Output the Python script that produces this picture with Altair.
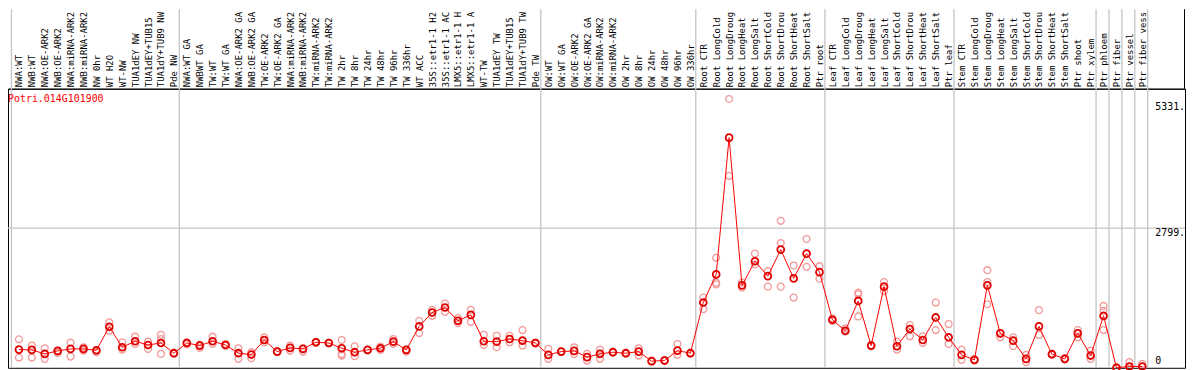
import altair as alt
import pandas as pd

gene_id = "Potri.014G101900"

categories = [
    "NWA:WT", "NWB:WT", "NWA:OE-ARK2", "NWB:OE-ARK2", "NWA:miRNA-ARK2", "NWB:miRNA-ARK2",
    "NW 0hr", "WT H2O", "WT-NW", "TUA1dEY NW", "TUA1dEY+TUB15", "TUA1dY+TUB9 NW", "Pde NW",
    "NWA:WT GA", "NWBWT GA", "TW:WT", "TW:WT GA", "NWA:OE-ARK2 GA", "NWB:OE-ARK2 GA",
    "TW:OE-ARK2", "TW:OE-ARK2 GA", "NWA:miRNA-ARK2", "NWB:miRNA-ARK2", "TW:miRNA-ARK2",
    "TW:miRNA-ARK2", "TW 2hr", "TW 8hr", "TW 24hr", "TW 48hr", "TW 96hr", "TW 336hr",
    "WT ACC", "35S::etr1-1 H2", "35S::etr1-1 AC", "LMX5::etr1-1 H", "LMX5::etr1-1 A",
    "WT-TW", "TUA1dEY TW", "TUA1dEY+TUB15", "TUA1dY+TUB9 TW", "Pde TW",
    "OW:WT", "OW:WT GA", "OW:OE-ARK2", "OW:OE-ARK2 GA", "OW:miRNA-ARK2", "OW:miRNA-ARK2",
    "OW 2hr", "OW 8hr", "OW 24hr", "OW 48hr", "OW 96hr", "OW 336hr",
    "Root CTR", "Root LongCold", "Root LongDroug", "Root LongHeat", "Root LongSalt",
    "Root ShortCold", "Root ShortDrou", "Root ShortHeat", "Root ShortSalt", "Ptr root",
    "Leaf CTR", "Leaf LongCold", "Leaf LongDroug", "Leaf LongHeat", "Leaf LongSalt",
    "Leaf ShortCold", "Leaf ShortDrou", "Leaf ShortHeat", "Leaf ShortSalt", "Ptr leaf",
    "Stem CTR", "Stem LongCold", "Stem LongDroug", "Stem LongHeat", "Stem LongSalt",
    "Stem ShortCold", "Stem ShortDrou", "Stem ShortHeat", "Stem ShortSalt", "Ptr shoot",
    "Ptr xylem", "Ptr phloem", "Ptr fiber", "Ptr vessel", "Ptr fiber vess",
]

means = [
    364, 358, 278, 338, 378, 378, 352, 821, 412, 531, 457, 497, 292,
    497, 444, 531, 457, 292, 265, 557, 324, 398, 378, 511, 497, 392, 312, 358, 392, 523,
    358, 829, 1108, 1207, 941, 1060, 531, 523, 577, 543, 497,
    259, 324, 338, 213, 278, 312, 292, 324, 133, 145, 344, 292,
    1307, 1870, 4609, 1651, 2134, 1836, 2367, 1790, 2287, 1915,
    961, 742, 1339, 444, 1625, 432, 776, 557, 1008, 611,
    259, 159, 1651, 690, 543, 179, 829, 272, 179, 690, 245,
    1040, 0, 26, 26,
]

replicates = [
    [571, 205], [444, 205], [392, 179], [324, 298], [503, 225], [412, 344], [324, 312],
    [909, 742], [511, 364], [623, 477], [523, 378], [662, 577, 278], [300, 285],
    [511, 471], [464, 398], [623, 477], [477, 444], [392, 179], [312, 193], [611, 511],
    [330, 318], [444, 344], [324, 390], [520, 500], [505, 490], [557, 278, 245],
    [432, 233], [365, 350], [424, 358], [577, 477], [324, 365], [941, 696],
    [1160, 1040], [1287, 1120], [994, 895], [1160, 921], [662, 457], [642, 412],
    [642, 511], [756, 444], [505, 490],
    [378, 179], [330, 318], [412, 278], [278, 145], [364, 179], [320, 305], [300, 285],
    [392, 245], [140, 126], [152, 138], [477, 259], [300, 285],
    [1406, 1174], [2202, 1705, 1671], [5384, 3845], [1705, 1605], [2287, 2069],
    [1935, 1625], [2944, 2500, 1625], [2049, 1406], [2580, 2023], [2035, 1784],
    [989, 940], [790, 730], [1506, 1472, 1028], [455, 435], [1717, 1537], [523, 364],
    [855, 631], [631, 497], [1307, 756], [875, 477],
    [364, 159], [170, 150], [1955, 1717, 1273], [611, 700], [611, 432], [259, 113],
    [1154, 656], [280, 265], [190, 170], [756, 611], [344, 179],
    [1239, 1140, 756], [0, 10], [113, 20], [80, 20],
]

group_starts = [0, 13, 41, 53, 63, 73, 84, 85, 86, 87, 88]
value_labels_top = [5331, 2799]
value_labels_bottom = [0]
grid_values = [2799]

# ---------------- layout ----------------
W = 1185
H = 281
TOP = 80
FONT = "DejaVu Sans Mono"

mean_df = pd.DataFrame({"idx": list(range(len(categories))), "cat": categories, "mean": means})
rep_rows = [{"idx": i, "value": v} for i, reps in enumerate(replicates) for v in reps]
rep_df = pd.DataFrame(rep_rows)
sep_df = pd.DataFrame({"g": group_starts})
title_df = pd.DataFrame({"gene": [gene_id]})

xscale = alt.Scale(domain=[-11 / 13, (W - 11) / 13], nice=False, zero=False)
yscale = alt.Scale(domain=[0, H / (140.7 / 2799)], nice=False, zero=False)

label_expr = "[" + ",".join("'" + c + "'" for c in categories) + "][datum.value]"

top_axis = alt.Axis(
    orient="top", values=list(range(len(categories))), labelExpr=label_expr,
    labelAngle=-90, labelAlign="left", labelBaseline="middle", labelPadding=2,
    ticks=False, domain=True, domainColor="black", domainWidth=1, grid=False,
    labelFont=FONT, labelFontSize=9, labelColor="black", labelOverlap=False,
    labelBound=False, labelFlush=False, labelLimit=300, title=None,
)


def X(field):
    return alt.X(field, scale=xscale, axis=top_axis)


seps = alt.Chart(sep_df).transform_calculate(pos="datum.g - 0.58").mark_rule(
    color="#c4c4c4", strokeWidth=1.3
).encode(
    x=X("pos:Q"),
    y=alt.value(-TOP), y2=alt.value(H),
)

grid = alt.Chart(pd.DataFrame({"v": grid_values})).mark_rule(
    color="#c4c4c4", strokeWidth=1.3
).encode(y=alt.Y("v:Q", scale=yscale, axis=None))

right_edge = alt.Chart(title_df).mark_rule(color="black", strokeWidth=1).encode(
    x=alt.value(W - 0.5), y=alt.value(-TOP), y2=alt.value(0)
)

reps = alt.Chart(rep_df).mark_point(
    shape="circle", filled=False, color="#f29a9a", strokeWidth=1.3, size=48, opacity=1
).encode(
    x=X("idx:Q"),
    y=alt.Y("value:Q", scale=yscale, axis=None),
)

line = alt.Chart(mean_df).mark_line(color="#ff0000", strokeWidth=1).encode(
    x=X("idx:Q"),
    y=alt.Y("mean:Q", scale=yscale, axis=None),
)

pts = alt.Chart(mean_df).mark_point(
    shape="circle", filled=False, color="#e00000", strokeWidth=1.8, size=48, opacity=1
).encode(
    x=X("idx:Q"),
    y=alt.Y("mean:Q", scale=yscale, axis=None),
)

title = alt.Chart(title_df).mark_text(
    align="left", baseline="middle", color="#ff0000", font=FONT, fontSize=10
).encode(x=alt.value(0), y=alt.value(10), text="gene:N")

vlab_top = alt.Chart(pd.DataFrame({"v": value_labels_top})).transform_calculate(
    lab="datum.v + '.'"
).mark_text(
    align="left", baseline="top", color="black", font=FONT, fontSize=10
).encode(
    x=alt.value(W - 30),
    y=alt.Y("v:Q", scale=yscale, axis=None),
    text="lab:N",
)

vlab_bot = alt.Chart(pd.DataFrame({"v": value_labels_bottom})).mark_text(
    align="left", baseline="alphabetic", dy=-4, color="black", font=FONT, fontSize=10
).encode(
    x=alt.value(W - 30),
    y=alt.Y("v:Q", scale=yscale, axis=None),
    text=alt.Text("v:Q", format="d"),
)

chart = alt.layer(seps, grid, right_edge, reps, line, pts, title, vlab_top, vlab_bot).properties(
    width=W, height=H,
    autosize=alt.AutoSizeParams(type="none"),
    padding={"left": 0, "top": TOP, "right": 1, "bottom": 1},
    background="white",
).configure_view(stroke="black", strokeWidth=1)

chart.save("out.html", embed_options={"renderer": "svg", "actions": False})
